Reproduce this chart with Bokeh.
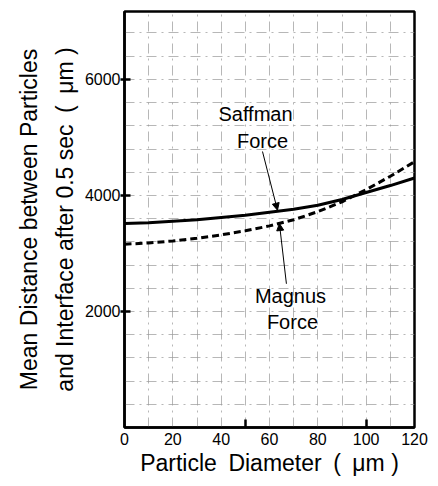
from bokeh.plotting import figure
from bokeh.models import FixedTicker, Range1d, Arrow, NormalHead, Label
from bokeh.embed import file_html
from bokeh.resources import INLINE

# Data
diameter = [0, 10, 20, 30, 40, 50, 60, 70, 80, 90, 100, 110, 120]
saffman = [3515, 3530, 3555, 3580, 3620, 3660, 3710, 3760, 3830, 3930, 4050, 4170, 4300]
magnus = [3160, 3180, 3215, 3260, 3320, 3390, 3475, 3580, 3720, 3890, 4100, 4330, 4580]

x_ticks = [0, 20, 40, 60, 80, 100, 120]
x_minor_ticks = [50, 100]
y_ticks = [2000, 4000, 6000]
x_grid = [10, 20, 30, 40, 50, 60, 70, 80, 90, 100, 110]
y_grid = [400 * i for i in range(1, 18)]

FONT = "Liberation Sans"

p = figure(width=430, height=478, output_backend="svg", toolbar_location=None,
           x_range=Range1d(0, 120), y_range=Range1d(0, 7170),
           min_border_left=124, min_border_right=16, min_border_top=11, min_border_bottom=46)
p.background_fill_color = "white"
p.border_fill_color = "white"
p.outline_line_color = "black"
p.outline_line_width = 2.5

# grid (graph-paper style)
p.xgrid.ticker = FixedTicker(ticks=x_grid)
p.ygrid.ticker = FixedTicker(ticks=y_grid)
for g in (p.xgrid, p.ygrid):
    g.grid_line_color = "#999999"
    g.grid_line_width = 1
    g.grid_line_dash = "10 5 2 5"
    g.grid_line_alpha = 0.7

# x axis
p.xaxis.ticker = FixedTicker(ticks=x_ticks, minor_ticks=x_minor_ticks)
p.xaxis.major_tick_in = 0
p.xaxis.major_tick_out = 0
p.xaxis.minor_tick_in = 8
p.xaxis.minor_tick_out = 0
p.xaxis.minor_tick_line_width = 2.5
p.xaxis.axis_line_width = 2.5
p.xaxis.major_label_text_font = FONT
p.xaxis.major_label_text_font_size = "16px"
p.xaxis.major_label_text_color = "black"
p.xaxis.major_label_standoff = 5
p.xaxis.axis_label = "Particle\u2002Diameter\u2002(\u2002\u03bcm )"
p.xaxis.axis_label_text_font = FONT
p.xaxis.axis_label_text_font_style = "normal"
p.xaxis.axis_label_text_font_size = "23px"
p.xaxis.axis_label_text_color = "black"
p.xaxis.axis_label_standoff = 2

# y axis
p.yaxis.ticker = FixedTicker(ticks=y_ticks, minor_ticks=[])
p.yaxis.major_tick_in = 6
p.yaxis.major_tick_out = 4
p.yaxis.major_tick_line_width = 2.5
p.yaxis.axis_line_width = 2.5
p.yaxis.major_label_text_font = FONT
p.yaxis.major_label_text_font_size = "16px"
p.yaxis.major_label_text_color = "black"
p.yaxis.major_label_standoff = 0
p.yaxis.axis_label = "Mean Distance between Particles\nand Interface after 0.5 sec\u2002(\u2002\u03bcm )"
p.yaxis.axis_label_text_font = FONT
p.yaxis.axis_label_text_font_style = "normal"
p.yaxis.axis_label_text_font_size = "23px"
p.yaxis.axis_label_text_color = "black"
p.yaxis.axis_label_text_line_height = 1.39
p.yaxis.axis_label_standoff = 4

# curves
p.line(diameter, saffman, line_color="black", line_width=3)
p.line(diameter, magnus, line_color="black", line_width=3, line_dash="7 4")

# annotations
for txt, xx, yy in [("Saffman", 54.2, 5404), ("Force", 57.1, 4945),
                    ("Magnus", 68.7, 2272), ("Force", 69.5, 1813)]:
    p.add_layout(Label(x=xx, y=yy, text=txt, text_font=FONT, text_font_size="20px",
                       text_align="center", text_baseline="middle", text_color="black"))

p.add_layout(Arrow(x_start=57.1, y_start=4757, x_end=63.3, y_end=3746,
                   line_width=1, line_color="black",
                   end=NormalHead(size=7, fill_color="black", line_color="black")))
p.add_layout(Arrow(x_start=67.0, y_start=2477, x_end=64.1, y_end=3515,
                   line_width=1, line_color="black",
                   end=NormalHead(size=7, fill_color="black", line_color="black")))

open("out.html", "w").write(file_html(p, INLINE))
